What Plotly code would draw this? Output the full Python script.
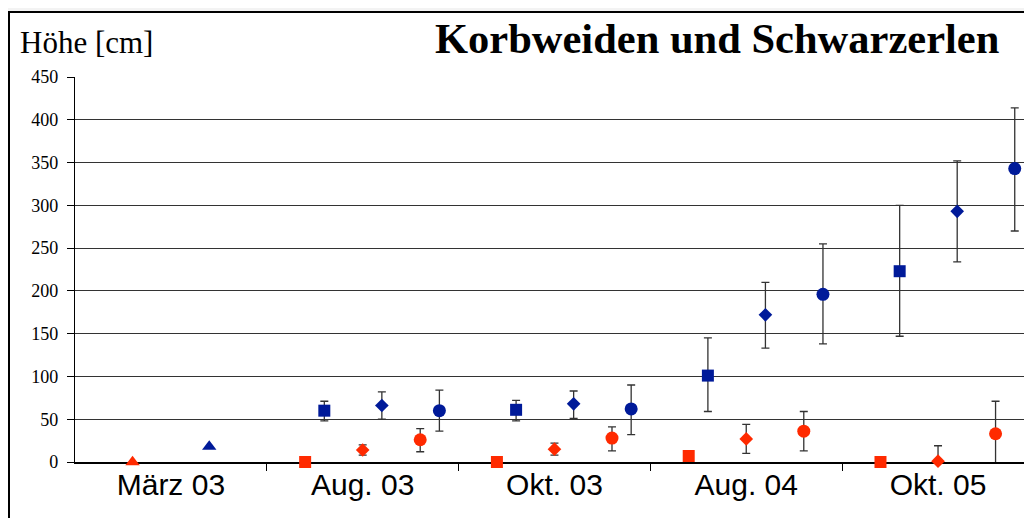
import plotly.graph_objects as go

# ---------------- data ----------------
categories = ["März 03", "Aug. 03", "Okt. 03", "Aug. 04", "Okt. 05"]

# triangles only at März 03
tri_red = [0]
tri_blue = [18]

# series at Aug. 03, Okt. 03, Aug. 04, Okt. 05
sq_red = [0, 0, 7, 0]
sq_blue = [60, 61, 101, 223]
sq_blue_hi = [71, 72, 145, 300]
sq_blue_lo = [48, 48, 59, 147]

dia_red = [14, 15, 27, 1]
dia_red_hi = [20, 22, 44, 19]
dia_red_lo = [8, 8, 10, 0]
dia_blue = [66, 68, 172, 293]
dia_blue_hi = [82, 83, 210, 352]
dia_blue_lo = [50, 51, 133, 234]

circ_red = [26, 28, 36, 33]
circ_red_hi = [39, 41, 59, 71]
circ_red_lo = [12, 13, 13, -5]
circ_blue = [60, 62, 196, 343]
circ_blue_hi = [84, 90, 255, 414]
circ_blue_lo = [36, 32, 138, 270]

y_ticks = [0, 50, 100, 150, 200, 250, 300, 350, 400, 450]

# ---------------- style ----------------
RED = "#FF2A00"
BLUE = "#001A99"
ERR = "#333333"
# within-category offsets (fraction of category width)
OFF = {"tri_red": 0.3, "tri_blue": 0.7, "sq_red": 0.2, "sq_blue": 0.3,
       "dia_red": 0.5, "dia_blue": 0.6, "circ_red": 0.8, "circ_blue": 0.9}

# page offset (body margin) compensation
S = 8
W, H = 1032, 518
L = 75 - S
T = 77 - S
BOT = 462 - S
R = 8
B = H - BOT
PW = W - L - R
PH = BOT - T


def px(x):
    return (x - S - L) / PW


def py(y):
    return (BOT - (y - S)) / PH


def err(vals, hi, lo):
    return dict(type="data", symmetric=False,
                array=[h - v for v, h in zip(vals, hi)],
                arrayminus=[v - l for v, l in zip(vals, lo)],
                color=ERR, thickness=1.3, width=4)


fig = go.Figure()


def add(name, cat_idx, vals, color, symbol, size, e=None):
    xs = [i + OFF[name] for i in cat_idx]
    fig.add_trace(go.Scatter(
        x=xs, y=vals, mode="markers", name=name,
        marker=dict(color=color, symbol=symbol, size=size, line=dict(width=0)),
        error_y=e if e else dict(visible=False),
        cliponaxis=False, showlegend=False))


later = [1, 2, 3, 4]
add("tri_red", [0], tri_red, RED, "triangle-up", 12.5)
add("tri_blue", [0], tri_blue, BLUE, "triangle-up", 12.5)
add("sq_red", later, sq_red, RED, "square", 12)
add("sq_blue", later, sq_blue, BLUE, "square", 12, err(sq_blue, sq_blue_hi, sq_blue_lo))
add("dia_red", later, dia_red, RED, "diamond", 10.5, err(dia_red, dia_red_hi, dia_red_lo))
add("dia_blue", later, dia_blue, BLUE, "diamond", 10.5, err(dia_blue, dia_blue_hi, dia_blue_lo))
add("circ_red", later, circ_red, RED, "circle", 13, err(circ_red, circ_red_hi, circ_red_lo))
add("circ_blue", later, circ_blue, BLUE, "circle", 13, err(circ_blue, circ_blue_hi, circ_blue_lo))

fig.update_layout(
    width=W, height=H,
    margin=dict(l=L, r=R, t=T, b=B),
    paper_bgcolor="#F3F3F3",
    plot_bgcolor="white",
    xaxis=dict(
        range=[0, 4.99],
        tickvals=[i + 0.5 for i in range(len(categories))],
        ticktext=categories,
        ticks="", ticklen=0, showgrid=False, zeroline=False,
        showline=True, linecolor="black", linewidth=1.5,
        layer="below traces",
        tickfont=dict(family="Liberation Sans Narrow, Arial Narrow, Liberation Sans", size=30, color="black"),
        ticklabelstandoff=-5,
        minor=dict(tickvals=[1, 2, 3, 4], ticks="outside", ticklen=7,
                   tickcolor="black", tickwidth=1.3, showgrid=False),
    ),
    yaxis=dict(
        range=[0, 450], tickvals=y_ticks,
        showgrid=True, gridcolor="#333333", gridwidth=1,
        zeroline=False,
        showline=True, linecolor="black", linewidth=1.3,
        layer="below traces",
        ticks="outside", ticklen=7, tickcolor="black", tickwidth=1.3,
        tickfont=dict(family="Liberation Serif, Times New Roman, serif", size=18, color="black"),
        ticklabelstandoff=5,
    ),
    shapes=[dict(type="rect", xref="paper", yref="paper", layer="below",
                 x0=px(9), x1=px(1060), y0=py(540), y1=py(12),
                 line=dict(color="black", width=2), fillcolor="white")],
    annotations=[
        dict(text="Höhe [cm]", xref="paper", yref="paper", x=px(18), y=py(42),
             xanchor="left", yanchor="middle", showarrow=False,
             font=dict(family="Liberation Serif, Times New Roman, serif", size=31, color="black")),
        dict(text="<b>Korbweiden und Schwarzerlen</b>", xref="paper", yref="paper",
             x=px(717), y=py(39), xanchor="center", yanchor="middle", showarrow=False,
             font=dict(family="Liberation Serif, Times New Roman, serif", size=42.5, color="black")),
    ],
)

fig.write_html("out.html")
